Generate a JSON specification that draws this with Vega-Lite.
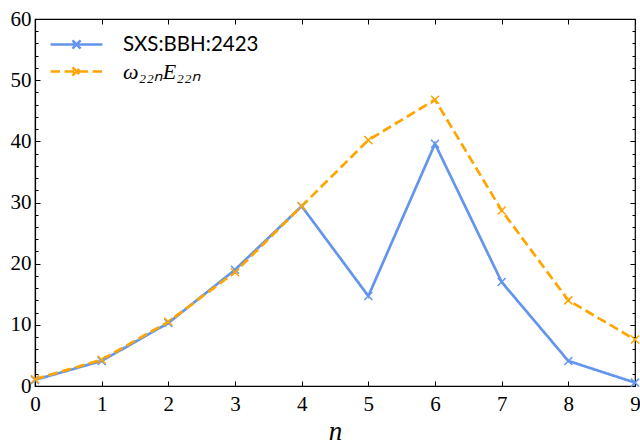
{
  "$schema": "https://vega.github.io/schema/vega-lite/v6.json",
  "width": 600,
  "height": 367,
  "autosize": {"type": "none"},
  "padding": {"left": 35, "top": 19, "right": 5, "bottom": 60},
  "background": "white",
  "data": {"values": [
    {"n": 0, "v": 1.0, "series": "SXS:BBH:2423"},
    {"n": 1, "v": 4.1, "series": "SXS:BBH:2423"},
    {"n": 2, "v": 10.3, "series": "SXS:BBH:2423"},
    {"n": 3, "v": 19.0, "series": "SXS:BBH:2423"},
    {"n": 4, "v": 29.4, "series": "SXS:BBH:2423"},
    {"n": 5, "v": 14.7, "series": "SXS:BBH:2423"},
    {"n": 6, "v": 39.6, "series": "SXS:BBH:2423"},
    {"n": 7, "v": 17.0, "series": "SXS:BBH:2423"},
    {"n": 8, "v": 4.1, "series": "SXS:BBH:2423"},
    {"n": 9, "v": 0.55, "series": "SXS:BBH:2423"},
    {"n": 0, "v": 1.1, "series": "ω₂₂ₙE₂₂ₙ"},
    {"n": 1, "v": 4.3, "series": "ω₂₂ₙE₂₂ₙ"},
    {"n": 2, "v": 10.5, "series": "ω₂₂ₙE₂₂ₙ"},
    {"n": 3, "v": 18.6, "series": "ω₂₂ₙE₂₂ₙ"},
    {"n": 4, "v": 29.4, "series": "ω₂₂ₙE₂₂ₙ"},
    {"n": 5, "v": 40.2, "series": "ω₂₂ₙE₂₂ₙ"},
    {"n": 6, "v": 46.8, "series": "ω₂₂ₙE₂₂ₙ"},
    {"n": 7, "v": 28.7, "series": "ω₂₂ₙE₂₂ₙ"},
    {"n": 8, "v": 14.0, "series": "ω₂₂ₙE₂₂ₙ"},
    {"n": 9, "v": 7.6, "series": "ω₂₂ₙE₂₂ₙ"}
  ]},
  "layer": [
    {
      "mark": {"type": "line", "strokeWidth": 2.7},
      "encoding": {
        "x": {"field": "n", "type": "quantitative", "scale": {"domain": [0, 9], "nice": false, "zero": false},
              "axis": {"orient": "bottom", "values": [0,1,2,3,4,5,6,7,8,9], "title": "n", "grid": false,
                       "tickSize": -5, "labelPadding": 12, "titlePadding": 4,
                       "titleFont": "Liberation Serif", "titleFontSize": 27, "titleFontStyle": "italic", "titleFontWeight": "normal"}},
        "y": {"field": "v", "type": "quantitative", "scale": {"domain": [0, 60], "nice": false},
              "axis": {"orient": "left", "values": [0,10,20,30,40,50,60], "title": null, "grid": false,
                       "tickSize": -5, "labelPadding": 9}},
        "color": {"field": "series", "type": "nominal",
                  "scale": {"domain": ["SXS:BBH:2423", "ω₂₂ₙE₂₂ₙ"], "range": ["#6495ED", "#FFA500"]},
                  "legend": {"title": null,
                             "encode": {"labels": {"update": {
                               "font": {"signal": "datum.label === 'SXS:BBH:2423' ? 'Lato' : 'Liberation Serif'"},
                               "fontStyle": {"signal": "datum.label === 'SXS:BBH:2423' ? 'normal' : 'italic'"},
                               "fontSize": {"signal": "datum.label === 'SXS:BBH:2423' ? 20.5 : 22"}
                             }}}}},
        "strokeDash": {"field": "series", "type": "nominal",
                       "scale": {"domain": ["SXS:BBH:2423", "ω₂₂ₙE₂₂ₙ"], "range": [[1, 0], [9.5, 4.5]]},
                       "legend": {"title": null}}
      }
    },
    {
      "mark": {"type": "point", "shape": "M-1,-1L1,1M-1,1L1,-1", "size": 64, "filled": false, "strokeWidth": 1.5, "opacity": 1},
      "encoding": {
        "x": {"field": "n", "type": "quantitative", "axis": null},
        "y": {"field": "v", "type": "quantitative", "axis": null},
        "color": {"field": "series", "type": "nominal"}
      }
    },
    {
      "mark": {"type": "point", "opacity": 0},
      "encoding": {
        "x": {"field": "n", "type": "quantitative",
              "axis": {"orient": "top", "values": [0,1,2,3,4,5,6,7,8,9], "labels": false, "title": null, "grid": false, "tickSize": -5, "domain": false}},
        "y": {"field": "v", "type": "quantitative",
              "axis": {"orient": "right", "values": [0,10,20,30,40,50,60], "labels": false, "title": null, "grid": false, "tickSize": -5, "domain": false}}
      }
    },
    {
      "mark": {"type": "point", "opacity": 0},
      "encoding": {
        "x": {"field": "n", "type": "quantitative", "axis": null},
        "y": {"field": "v", "type": "quantitative",
              "axis": {"orient": "left", "values": [2,4,6,8,12,14,16,18,22,24,26,28,32,34,36,38,42,44,46,48,52,54,56,58], "labels": false, "title": null, "grid": false, "tickSize": -3, "domain": false}}
      }
    },
    {
      "mark": {"type": "point", "opacity": 0},
      "encoding": {
        "x": {"field": "n", "type": "quantitative", "axis": null},
        "y": {"field": "v", "type": "quantitative",
              "axis": {"orient": "right", "values": [2,4,6,8,12,14,16,18,22,24,26,28,32,34,36,38,42,44,46,48,52,54,56,58], "labels": false, "title": null, "grid": false, "tickSize": -3, "domain": false}}
      }
    }
  ],
  "resolve": {"axis": {"x": "independent", "y": "independent"}},
  "config": {
    "view": {"stroke": "#000000", "strokeWidth": 1.2},
    "axis": {
      "domainColor": "#000000", "domainWidth": 1.2, "tickColor": "#000000", "tickWidth": 1,
      "labelFont": "Liberation Serif", "labelFontSize": 21, "labelColor": "#000000",
      "titleFont": "Liberation Serif", "titleFontSize": 27, "titleFontStyle": "italic", "titleFontWeight": "normal", "titleColor": "#000000",
      "labelFlush": false, "labelOverlap": false
    },
    "legend": {
      "orient": "none", "legendX": 25, "legendY": 9,
      "symbolType": "M-1.73,0L1.73,0M-0.27,-0.27L0.27,0.27M-0.27,0.27L0.27,-0.27",
      "symbolSize": 900, "symbolStrokeWidth": 2.5, "symbolFillColor": "transparent",
      "labelOffset": 30, "labelFont": "Lato", "labelFontSize": 20, "labelColor": "#000000",
      "rowPadding": 0, "padding": 0, "labelLimit": 300
    }
  }
}
